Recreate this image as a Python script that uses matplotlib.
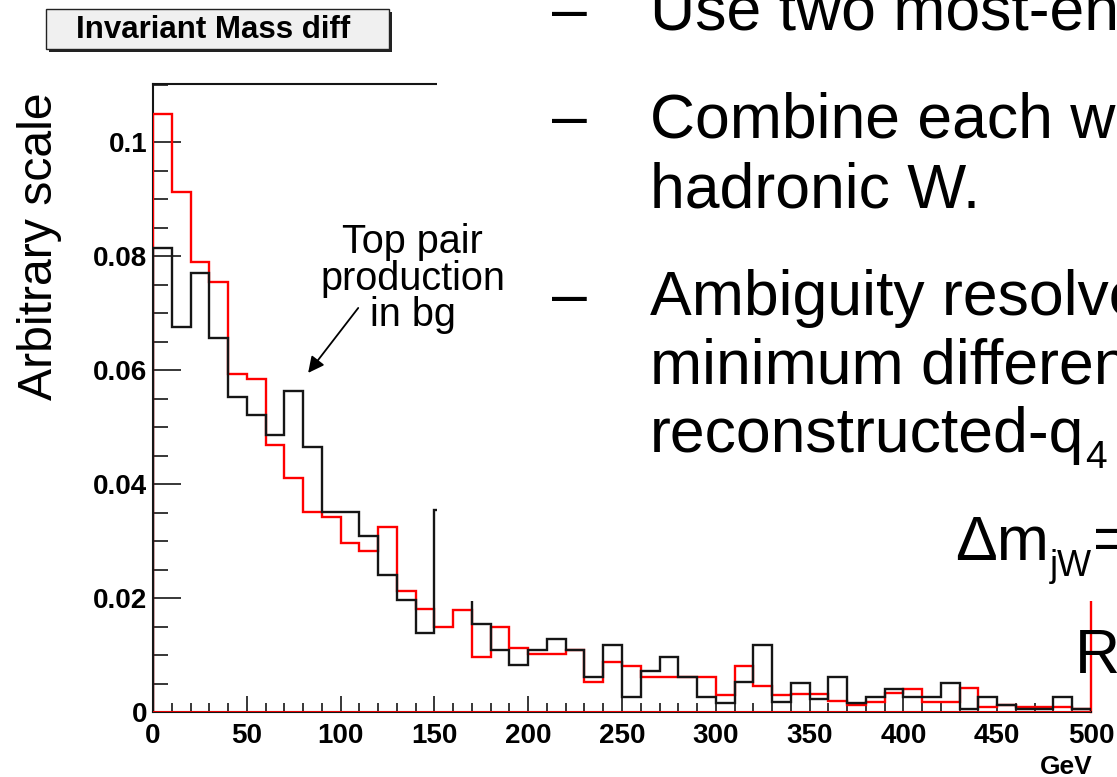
import numpy as np
import matplotlib
matplotlib.use("Agg")
import matplotlib.pyplot as plt
from matplotlib.patches import Rectangle
from matplotlib.ticker import MultipleLocator, FixedLocator

plt.rcParams['font.family'] = ['Liberation Sans', 'DejaVu Sans']

# ---------------- data ----------------
bin_width = 10
x_range = (0, 500)
red_values = [0.1049, 0.0913, 0.0790, 0.0755, 0.0593, 0.0585, 0.0468, 0.0410, 0.0351, 0.0343,
              0.0297, 0.0283, 0.0325, 0.0213, 0.0181, 0.0150, 0.0179, 0.0097, 0.0150, 0.0112,
              0.0102, 0.0102, 0.0108, 0.0052, 0.0087, 0.0080, 0.0062, 0.0062, 0.0062, 0.0062,
              0.0030, 0.0080, 0.0045, 0.0030, 0.0031, 0.0032, 0.0020, 0.0012, 0.0018, 0.0033,
              0.0040, 0.0018, 0.0018, 0.0042, 0.0008, 0.0012, 0.0009, 0.0009, 0.0009, 0.0006]
black_values = [0.0814, 0.0675, 0.0770, 0.0656, 0.0553, 0.0522, 0.0486, 0.0564, 0.0465, 0.0351,
                0.0351, 0.0308, 0.0240, 0.0196, 0.0139, 0.0354, 0.0199, 0.0154, 0.0108, 0.0083,
                0.0108, 0.0128, 0.0108, 0.0062, 0.0118, 0.0027, 0.0072, 0.0096, 0.0062, 0.0027,
                0.0016, 0.0052, 0.0118, 0.0017, 0.0051, 0.0022, 0.0062, 0.0016, 0.0027, 0.0040,
                0.0027, 0.0027, 0.0051, 0.0006, 0.0026, 0.0012, 0.0006, 0.0006, 0.0026, 0.0006]
x_ticks = [0, 50, 100, 150, 200, 250, 300, 350, 400, 450, 500]
x_tick_labels = ['0', '50', '100', '150', '200', '250', '300', '350', '400', '450', '500']
y_ticks = [0, 0.02, 0.04, 0.06, 0.08, 0.1]
y_tick_labels = ['0', '0.02', '0.04', '0.06', '0.08', '0.1']
y_max = 0.1102
title_text = 'Invariant Mass diff'
y_label = 'Arbitrary scale'
x_unit = 'GeV'
annotation_text = 'Top pair\nproduction\nin bg'
arrow_tip = (82.7, 0.0595)
arrow_tail = (109.4, 0.0709)
annotation_center = (138.5, 0.0760)
bullet_lines = [('–', 'Use two most-energetic jets', 30),
                ('–', 'Combine each with the', 137),
                ('', 'hadronic W.', 207),
                ('–', 'Ambiguity resolved by the', 315),
                ('', 'minimum difference between', 383)]

# ---------------- figure ----------------
W, H = 1117, 777
fig = plt.figure(figsize=(W / 100, H / 100), dpi=100)
fig.patch.set_facecolor('white')


def fx(px):
    return px / W


def fy(py):
    return 1 - py / H


ax = fig.add_axes([fx(153), fy(712), fx(1091) - fx(153), fy(84) - fy(712)])
ax.set_xlim(*x_range)
ax.set_ylim(0, y_max)
edges = np.arange(x_range[0], x_range[1] + bin_width, bin_width)
ax.stairs(red_values, edges, color='#ff0000', lw=1.7, zorder=3)
ax.stairs(black_values, edges, color='#151515', lw=1.7, zorder=3.1)
ax.axhline(0, color='#ff0000', lw=2.0, zorder=3.2)

for s in ['left', 'bottom', 'top']:
    ax.spines[s].set_color('#151515')
    ax.spines[s].set_linewidth(1.5)
ax.spines['right'].set_color('#ff0000')
ax.spines['right'].set_linewidth(1.7)

ax.xaxis.set_major_locator(FixedLocator(x_ticks))
ax.set_xticklabels(x_tick_labels, fontweight='bold', fontsize=20)
ax.yaxis.set_major_locator(FixedLocator(y_ticks))
ax.set_yticklabels(y_tick_labels, fontweight='bold', fontsize=20)
ax.xaxis.set_minor_locator(MultipleLocator(10))
ax.yaxis.set_minor_locator(MultipleLocator(0.005))
ax.tick_params(which='both', direction='in', top=False, right=False, width=1.2, color='#151515')
ax.tick_params(axis='x', which='major', length=11.5, pad=8)
ax.tick_params(axis='x', which='minor', length=6.5)
ax.tick_params(axis='y', which='major', length=20, pad=4)
ax.tick_params(axis='y', which='minor', length=10.8)

# white slide text box covering part of the plot
cover = Rectangle((fx(437), fy(601)), 1 - fx(437), 1 - fy(601), transform=fig.transFigure,
                  facecolor='white', edgecolor='none', zorder=5)
ax.add_artist(cover)
cover.set_clip_on(False)

# annotation
ax.annotate('', xy=arrow_tip, xytext=arrow_tail,
            arrowprops=dict(arrowstyle='-|>', color='black', lw=1.3, mutation_scale=24,
                            shrinkA=0, shrinkB=0), zorder=6)
ax.text(annotation_center[0], annotation_center[1], annotation_text, ha='center', va='center',
        fontsize=28.5, linespacing=0.95, zorder=6, clip_on=False)

# title box
shadow = Rectangle((fx(49), fy(52)), fx(389) - fx(46), fy(9) - fy(49), transform=fig.transFigure,
                   facecolor='#222222', edgecolor='none', zorder=1)
box = Rectangle((fx(46), fy(49)), fx(389) - fx(46), fy(9) - fy(49), transform=fig.transFigure,
                facecolor='#f0f0f0', edgecolor='#222222', lw=1.0, zorder=2)
fig.add_artist(shadow)
fig.add_artist(box)
fig.text(fx(213), fy(30), title_text, ha='center', va='center', fontweight='bold',
         fontsize=22.5, zorder=3)

# axis labels
fig.text(fx(17), fy(246), y_label, rotation=90, ha='left', va='center', fontsize=34.7)
fig.text(fx(1093), fy(774), x_unit, ha='right', va='baseline', fontweight='bold', fontsize=19)

# slide text
slide_fs = 45
for dash, txt, base in bullet_lines:
    if dash:
        fig.text(fx(552), fy(base), dash, ha='left', va='baseline', fontsize=slide_fs)
    fig.text(fx(650), fy(base), txt, ha='left', va='baseline', fontsize=slide_fs)

renderer = fig.canvas.get_renderer()
t_rec = fig.text(fx(650), fy(452), 'reconstructed-q', ha='left', va='baseline', fontsize=slide_fs)
bb = t_rec.get_window_extent(renderer)
fig.text((bb.x1 + 1) / W, fy(468), '4', ha='left', va='baseline', fontsize=28)

t_dm = fig.text(fx(955), fy(560), 'Δm', ha='left', va='baseline', fontsize=slide_fs)
bb = t_dm.get_window_extent(renderer)
t_sub = fig.text((bb.x1 + 1) / W, fy(576), 'jW', ha='left', va='baseline', fontsize=26)
bb2 = t_sub.get_window_extent(renderer)
fig.text((bb2.x1 + 1) / W, fy(560), '=', ha='left', va='baseline', fontsize=slide_fs)
fig.text(fx(1075), fy(673), 'R', ha='left', va='baseline', fontsize=slide_fs)

fig.savefig('out.png', dpi=100)
